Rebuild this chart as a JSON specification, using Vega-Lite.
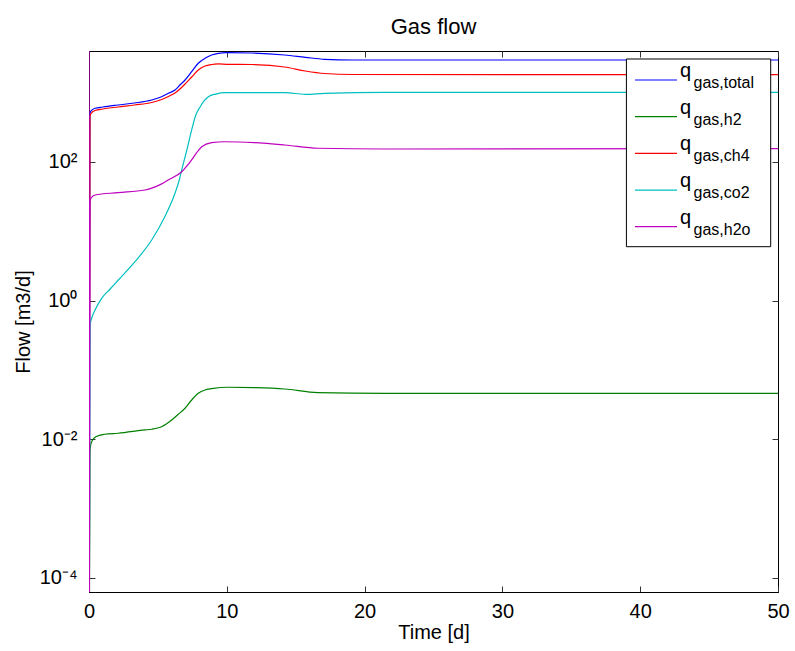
{
  "$schema": "https://vega.github.io/schema/vega-lite/v6.json",
  "autosize": {"type": "none"},
  "width": 689,
  "height": 541,
  "padding": {"left": 89, "top": 51, "right": 17, "bottom": 59},
  "background": "white",
  "title": {
    "text": "Gas flow",
    "fontSize": 22,
    "fontWeight": "normal",
    "font": "Liberation Sans",
    "color": "black",
    "baseline": "bottom",
    "offset": 12,
    "dy": 22,
    "frame": "group"
  },
  "config": {
    "font": "Liberation Sans",
    "view": {"stroke": "black", "strokeWidth": 1},
    "axis": {
      "labelFont": "Liberation Sans",
      "titleFont": "Liberation Sans",
      "labelFontSize": 20,
      "titleFontSize": 20,
      "titleFontWeight": "normal",
      "labelColor": "black",
      "titleColor": "black",
      "domainColor": "black",
      "tickColor": "#333333",
      "labelFlush": false,
      "grid": false
    }
  },
  "layer": [
    {
      "layer": [
        {
          "data": {
            "values": [
              {"s": "total", "t": 0, "v": 1e-6},
              {"s": "total", "t": 0.07, "v": 509},
              {"s": "total", "t": 0.15, "v": 545},
              {"s": "total", "t": 0.44, "v": 596},
              {"s": "total", "t": 1.0, "v": 622},
              {"s": "total", "t": 2.1, "v": 665},
              {"s": "total", "t": 3.3, "v": 711},
              {"s": "total", "t": 4.55, "v": 786},
              {"s": "total", "t": 5.27, "v": 876},
              {"s": "total", "t": 5.76, "v": 981},
              {"s": "total", "t": 6.24, "v": 1094},
              {"s": "total", "t": 6.6, "v": 1291},
              {"s": "total", "t": 6.97, "v": 1527},
              {"s": "total", "t": 7.45, "v": 2011},
              {"s": "total", "t": 7.93, "v": 2660},
              {"s": "total", "t": 8.42, "v": 3142},
              {"s": "total", "t": 8.9, "v": 3503},
              {"s": "total", "t": 9.38, "v": 3706},
              {"s": "total", "t": 10.0, "v": 3783},
              {"s": "total", "t": 11.8, "v": 3743},
              {"s": "total", "t": 14.2, "v": 3503},
              {"s": "total", "t": 15.7, "v": 3243},
              {"s": "total", "t": 17.1, "v": 3034},
              {"s": "total", "t": 19.1, "v": 2965},
              {"s": "total", "t": 50, "v": 2965},

              {"s": "h2", "t": 0, "v": 1e-6},
              {"s": "h2", "t": 0.07, "v": 0.00652},
              {"s": "h2", "t": 0.15, "v": 0.00871},
              {"s": "h2", "t": 0.5, "v": 0.01084},
              {"s": "h2", "t": 1.15, "v": 0.01174},
              {"s": "h2", "t": 2.1, "v": 0.01214},
              {"s": "h2", "t": 4.06, "v": 0.01355},
              {"s": "h2", "t": 4.55, "v": 0.01387},
              {"s": "h2", "t": 5.27, "v": 0.0151},
              {"s": "h2", "t": 6.0, "v": 0.01888},
              {"s": "h2", "t": 6.48, "v": 0.0228},
              {"s": "h2", "t": 6.97, "v": 0.0279},
              {"s": "h2", "t": 7.45, "v": 0.0367},
              {"s": "h2", "t": 7.93, "v": 0.0458},
              {"s": "h2", "t": 8.42, "v": 0.0512},
              {"s": "h2", "t": 8.9, "v": 0.0534},
              {"s": "h2", "t": 10.1, "v": 0.056},
              {"s": "h2", "t": 12.0, "v": 0.0553},
              {"s": "h2", "t": 14.2, "v": 0.0529},
              {"s": "h2", "t": 16.6, "v": 0.0468},
              {"s": "h2", "t": 21.5, "v": 0.0458},
              {"s": "h2", "t": 50, "v": 0.0458},

              {"s": "ch4", "t": 0, "v": 1e-6},
              {"s": "ch4", "t": 0.07, "v": 461},
              {"s": "ch4", "t": 0.15, "v": 501},
              {"s": "ch4", "t": 0.44, "v": 554},
              {"s": "ch4", "t": 1.0, "v": 582},
              {"s": "ch4", "t": 2.1, "v": 622},
              {"s": "ch4", "t": 3.3, "v": 665},
              {"s": "ch4", "t": 4.55, "v": 723},
              {"s": "ch4", "t": 5.27, "v": 798},
              {"s": "ch4", "t": 5.76, "v": 882},
              {"s": "ch4", "t": 6.24, "v": 991},
              {"s": "ch4", "t": 6.6, "v": 1132},
              {"s": "ch4", "t": 6.97, "v": 1337},
              {"s": "ch4", "t": 7.45, "v": 1687},
              {"s": "ch4", "t": 7.93, "v": 2129},
              {"s": "ch4", "t": 8.42, "v": 2431},
              {"s": "ch4", "t": 8.9, "v": 2555},
              {"s": "ch4", "t": 9.38, "v": 2600},
              {"s": "ch4", "t": 10.0, "v": 2572},
              {"s": "ch4", "t": 11.8, "v": 2555},
              {"s": "ch4", "t": 14.2, "v": 2349},
              {"s": "ch4", "t": 15.7, "v": 2056},
              {"s": "ch4", "t": 17.1, "v": 1893},
              {"s": "ch4", "t": 19.1, "v": 1832},
              {"s": "ch4", "t": 50, "v": 1819},

              {"s": "co2", "t": 0, "v": 1e-6},
              {"s": "co2", "t": 0.08, "v": 0.443},
              {"s": "co2", "t": 0.2, "v": 0.56},
              {"s": "co2", "t": 0.44, "v": 0.731},
              {"s": "co2", "t": 0.92, "v": 1.078},
              {"s": "co2", "t": 1.5, "v": 1.445},
              {"s": "co2", "t": 2.13, "v": 1.98},
              {"s": "co2", "t": 3.34, "v": 3.64},
              {"s": "co2", "t": 4.55, "v": 7.48},
              {"s": "co2", "t": 5.5, "v": 16.2},
              {"s": "co2", "t": 6.24, "v": 35.3},
              {"s": "co2", "t": 6.55, "v": 55},
              {"s": "co2", "t": 6.73, "v": 76.8},
              {"s": "co2", "t": 7.1, "v": 149},
              {"s": "co2", "t": 7.45, "v": 290},
              {"s": "co2", "t": 7.75, "v": 477},
              {"s": "co2", "t": 8.07, "v": 628},
              {"s": "co2", "t": 8.35, "v": 760},
              {"s": "co2", "t": 8.66, "v": 877},
              {"s": "co2", "t": 9.2, "v": 956},
              {"s": "co2", "t": 9.87, "v": 1001},
              {"s": "co2", "t": 14.2, "v": 1001},
              {"s": "co2", "t": 15.7, "v": 948},
              {"s": "co2", "t": 17.1, "v": 981},
              {"s": "co2", "t": 21.5, "v": 1013},
              {"s": "co2", "t": 50, "v": 1013},

              {"s": "h2o", "t": 0, "v": 1e5},
              {"s": "h2o", "t": 0.02, "v": 1e-6},
              {"s": "h2o", "t": 0.07, "v": 26.5},
              {"s": "h2o", "t": 0.15, "v": 30.2},
              {"s": "h2o", "t": 0.44, "v": 33.4},
              {"s": "h2o", "t": 2.1, "v": 36.1},
              {"s": "h2o", "t": 4.06, "v": 39.4},
              {"s": "h2o", "t": 4.55, "v": 42},
              {"s": "h2o", "t": 5.2, "v": 47.5},
              {"s": "h2o", "t": 5.75, "v": 55},
              {"s": "h2o", "t": 6.73, "v": 72.4},
              {"s": "h2o", "t": 7.45, "v": 107},
              {"s": "h2o", "t": 7.8, "v": 135},
              {"s": "h2o", "t": 8.18, "v": 166},
              {"s": "h2o", "t": 8.9, "v": 190},
              {"s": "h2o", "t": 9.87, "v": 196},
              {"s": "h2o", "t": 12.0, "v": 190},
              {"s": "h2o", "t": 14.2, "v": 176},
              {"s": "h2o", "t": 16.6, "v": 158},
              {"s": "h2o", "t": 21.5, "v": 154},
              {"s": "h2o", "t": 50, "v": 156}
            ]
          },
          "mark": {"type": "line", "strokeWidth": 1.2, "clip": true, "interpolate": "monotone"},
          "encoding": {
            "x": {
              "field": "t",
              "type": "quantitative",
              "scale": {"domain": [0, 50], "nice": false, "zero": false},
              "axis": {
                "values": [0, 10, 20, 30, 40, 50],
                "format": "d",
                "title": "Time [d]",
                "tickSize": -6,
                "labelPadding": 15,
                "titlePadding": 1
              }
            },
            "y": {
              "field": "v",
              "type": "quantitative",
              "scale": {"type": "log", "domain": [6.21e-5, 4000], "nice": false},
              "axis": {
                "values": [0.0001, 0.01, 1, 100],
                "labelExpr": "datum.value >= 50 ? '10²' : datum.value >= 0.5 ? '10⁰' : datum.value >= 0.005 ? '10⁻²' : '10⁻⁴'",
                "title": "Flow [m3/d]",
                "tickSize": -6,
                "labelPadding": 18,
                "titlePadding": 6
              }
            },
            "color": {
              "field": "s",
              "type": "nominal",
              "scale": {
                "domain": ["total", "h2", "ch4", "co2", "h2o"],
                "range": ["#0000ff", "#008000", "#ff0000", "#00bfbf", "#bf00bf"]
              },
              "legend": null
            }
          }
        },
        {
          "data": {"values": [{}]},
          "mark": {"type": "rect", "fill": "white", "stroke": "black", "strokeWidth": 1},
          "encoding": {
            "x": {"datum": 39.0, "type": "quantitative"},
            "x2": {"datum": 49.47},
            "y": {"datum": 3067, "type": "quantitative"},
            "y2": {"datum": 5.99}
          }
        }
      ]
    },
    {
      "data": {"values": [{}]},
      "mark": {"type": "point", "opacity": 0},
      "encoding": {
        "x": {
          "datum": 0,
          "type": "quantitative",
          "scale": {"domain": [0, 50], "nice": false, "zero": false},
          "axis": {"orient": "top", "values": [0, 10, 20, 30, 40, 50], "labels": false, "domain": false, "title": null, "tickSize": -6, "minExtent": 0, "maxExtent": 0}
        },
        "y": {
          "datum": 1,
          "type": "quantitative",
          "scale": {"type": "log", "domain": [6.21e-5, 4000], "nice": false},
          "axis": {"orient": "right", "values": [0.0001, 0.01, 1, 100], "labels": false, "domain": false, "title": null, "tickSize": -6, "minExtent": 0, "maxExtent": 0}
        }
      }
    },
    {
      "data": {
        "values": [
          {"s": "total", "sub": "gas,total"},
          {"s": "h2", "sub": "gas,h2"},
          {"s": "ch4", "sub": "gas,ch4"},
          {"s": "co2", "sub": "gas,co2"},
          {"s": "h2o", "sub": "gas,h2o"}
        ]
      },
      "encoding": {
        "y": {
          "field": "s",
          "type": "nominal",
          "scale": {"type": "point", "domain": ["total", "h2", "ch4", "co2", "h2o"], "range": [29, 175.7], "padding": 0},
          "axis": null
        }
      },
      "layer": [
        {
          "mark": {"type": "rule", "strokeWidth": 1.2},
          "encoding": {
            "x": {"datum": 39.62, "type": "quantitative", "scale": {"domain": [0, 50], "nice": false, "zero": false}, "axis": null},
            "x2": {"datum": 42.67},
            "color": {"field": "s", "type": "nominal", "legend": null}
          }
        },
        {
          "mark": {"type": "text", "text": "q", "align": "left", "baseline": "alphabetic", "dy": -3, "fontSize": 20, "color": "black"},
          "encoding": {
            "x": {"datum": 42.89, "type": "quantitative"}
          }
        },
        {
          "mark": {"type": "text", "align": "left", "baseline": "alphabetic", "dy": 8, "fontSize": 16, "color": "black"},
          "encoding": {
            "x": {"datum": 43.87, "type": "quantitative"},
            "text": {"field": "sub", "type": "nominal"}
          }
        }
      ]
    }
  ],
  "resolve": {"scale": {"x": "independent", "y": "independent"}}
}
